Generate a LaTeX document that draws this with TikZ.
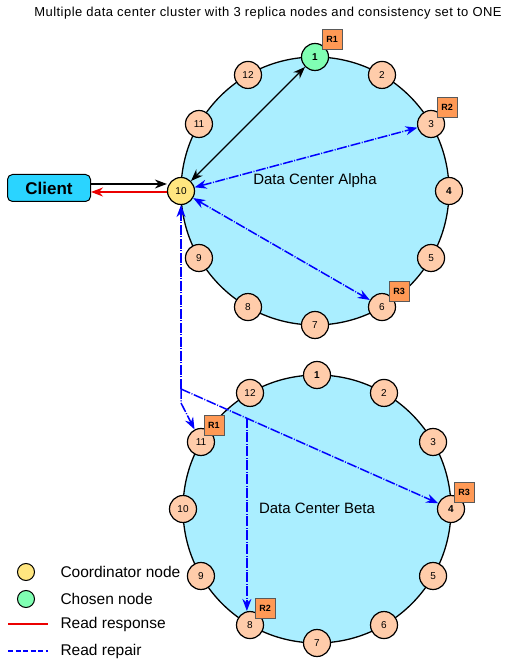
\documentclass[tikz,border=0pt]{standalone}
\usepackage{fontspec}
\setmainfont{Liberation Sans}
\newfontfamily\titlefont[LetterSpace=3.6]{Liberation Sans}
\usetikzlibrary{arrows.meta,calc}

\definecolor{ringfill}{RGB}{170,238,255}
\definecolor{peach}{RGB}{255,204,170}
\definecolor{coordfill}{RGB}{255,230,128}
\definecolor{chosenfill}{RGB}{128,255,179}
\definecolor{replicafill}{RGB}{255,153,85}
\definecolor{clientfill}{RGB}{42,212,255}
\definecolor{repairblue}{RGB}{0,0,255}
\definecolor{readred}{RGB}{235,0,0}

\tikzset{
  ring/.style={circle,draw,line width=1.2pt,fill=peach,minimum size=27pt,inner sep=0pt,font=\fontsize{10}{12}\selectfont},
  bold/.style={font=\bfseries\fontsize{10}{12}\selectfont},
  chosen/.style={fill=chosenfill},
  coordnode/.style={fill=coordfill},
  alpha1/.style={chosen,bold},
  alpha4/.style={bold},
  alpha10/.style={coordnode},
  beta1/.style={bold},
  beta4/.style={bold},
  replica/.style={draw=black!65,fill=replicafill,minimum size=20pt,inner sep=0pt,font=\bfseries\fontsize{9}{10}\selectfont},
  dctext/.style={font=\fontsize{15}{18}\selectfont},
  legtext/.style={anchor=west,font=\fontsize{15.5}{18}\selectfont},
  legdot/.style={circle,draw,line width=1pt,minimum size=17pt,inner sep=0pt},
  request/.style={draw=black,line width=1.2pt,-{Stealth[length=12pt,width=9pt]}},
  response/.style={draw=readred,line width=1.2pt,-{Stealth[length=12pt,width=9pt,readred]}},
  repair/.style={draw=repairblue,line width=1.5pt,dash pattern=on 10pt off 1.5pt on 1pt off 1.5pt,-{Stealth[length=12pt,width=9pt,repairblue]}},
  repairboth/.style={repair,{Stealth[length=12pt,width=9pt,repairblue]}-{Stealth[length=12pt,width=9pt,repairblue]}}
}

\begin{document}
\begin{tikzpicture}[x=1pt,y=1pt]
\useasboundingbox (0,0) rectangle (508,660);

\node (title) at (268,647) {\titlefont\fontsize{13}{15}\selectfont Multiple data center cluster with 3 replica nodes and consistency set to ONE};

% the two data centers
\coordinate (alpha) at (315,469);
\coordinate (beta) at (317,151);
\draw[line width=1.3pt,fill=ringfill] (alpha) circle (134pt);
\draw[line width=1.3pt,fill=ringfill] (beta) circle (134pt);
\node[dctext] (alphatext) at (315,479) {Data Center Alpha};
\node[dctext] (betatext) at (317,152) {Data Center Beta};

\foreach \k in {1,...,12}{
  \node[ring,alpha\k/.try] (a\k) at ($(alpha)+({120-30*\k}:134pt)$) {\k};
  \node[ring,beta\k/.try] (b\k) at ($(beta)+({120-30*\k}:134pt)$) {\k};
}

% replicas
\node[replica] (ra1) at ($(a1)+(17,18)$) {R1};
\node[replica] (ra2) at ($(a3)+(16,17)$) {R2};
\node[replica] (ra3) at ($(a6)+(17,16)$) {R3};
\node[replica] (rb1) at ($(b11)+(13,17)$) {R1};
\node[replica] (rb2) at ($(b8)+(15,17)$) {R2};
\node[replica] (rb3) at ($(b4)+(13,17)$) {R3};

% client and the read
\node[draw,line width=1pt,rounded corners=5pt,fill=clientfill,minimum width=83pt,minimum height=27pt,font=\bfseries\fontsize{17}{20}\selectfont] (client) at (49,472) {Client};
\draw[request] ($(client.east)+(0,4)$) -- ($(client.east -| a10.west)+(0,4)$);
\draw[response] ($(client.east -| a10.west)+(0,-4)$) -- ($(client.east)+(0,-4)$);
\draw[line width=1.2pt,{Stealth[length=12pt,width=9pt]}-{Stealth[length=12pt,width=9pt]}] (a10) -- (a1);

% read repair
\draw[repairboth] (a10) -- (a3);
\draw[repairboth] (a10) -- (a6);
\coordinate (split) at (181,271);
\coordinate (bend) at (181,257);
\coordinate (fork) at ($(split)!0.244!(b4)$);
\draw[repair] (split) -- (a10);
\draw[repair] (split) -- (bend) -- (b11);
\draw[repair] (split) -- (b4);
\draw[repair] (fork) -- (fork |- b8.north);

% legend
\node[legdot,fill=coordfill] (legcoord) at (26,88) {};
\node[legtext] (legcoordtext) at (57,88) {Coordinator node};
\node[legdot,fill=chosenfill] (legchosen) at (26,61) {};
\node[legtext] (legchosentext) at (57,61) {Chosen node};
\coordinate (legresp) at (8,36);
\draw[draw=readred,line width=1.2pt] (legresp) -- ++(40,0);
\node[legtext] (legresptext) at (57,36) {Read response};
\coordinate (legrepair) at (8,9);
\draw[draw=repairblue,line width=1.2pt,dash pattern=on 5pt off 2.5pt] (legrepair) -- ++(40,0);
\node[legtext] (legrepairtext) at (57,9) {Read repair};
\end{tikzpicture}
\end{document}
